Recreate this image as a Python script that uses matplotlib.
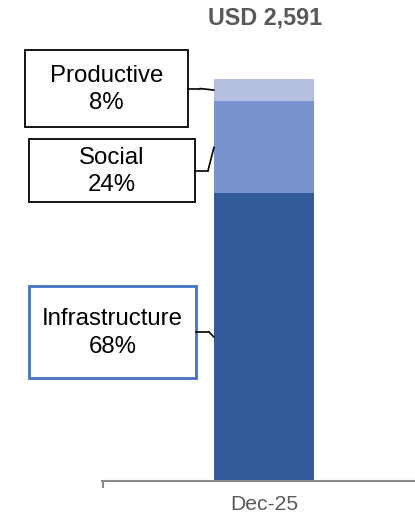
import matplotlib.pyplot as plt
from matplotlib.patches import Rectangle, ConnectionPatch

plt.rcParams['font.family'] = ['Liberation Sans', 'DejaVu Sans']

# data (USD)
period = 'Dec-25'
segments = ['Infrastructure', 'Social', 'Productive']
values = [1855, 593, 143]
shares = ['68%', '24%', '8%']
colors = ['#335A99', '#7A92CE', '#B4BFE0']
total = 2591

W, H = 415, 518
fig = plt.figure(figsize=(W / 100, H / 100), dpi=100)

# main axes
ax = fig.add_axes([102 / W, 37 / H, 313 / W, 441 / H])
bar_w = 0.6
bottom = 0
mids = []
for v, c in zip(values, colors):
    ax.bar(0, v, bar_w, bottom=bottom, color=c, linewidth=0)
    mids.append(bottom + v / 2)
    bottom += v
ax.set_xlim(-0.972, 0.906)
ax.set_ylim(0, total * 441 / 402)
ax.set_xticks([0])
ax.set_xticklabels([period], fontsize=15.2, color='#595959')
ax.tick_params(axis='x', length=0, pad=10)
ax.set_yticks([])
for s in ['top', 'right', 'left']:
    ax.spines[s].set_visible(False)
ax.spines['bottom'].set_color('#898989')
ax.spines['bottom'].set_linewidth(1.5)

ax.annotate(f'USD {total:,}', xy=(0, bottom), xytext=(1, 44),
            textcoords='offset points', ha='center', va='center',
            fontsize=16.8, fontweight='bold', color='#595959')

# overlay in pixel coords for the label boxes
ov = fig.add_axes([0, 0, 1, 1], zorder=5)
ov.set_xlim(0, W)
ov.set_ylim(H, 0)
ov.axis('off')
ov.patch.set_alpha(0)

# small tick at left end of the axis line
ov.plot([102.5, 102.5], [481, 487], color='#898989', lw=1.5)

# box x0, y0, x1, y1, edge colour, edge width, elbow
boxes = {
    'Productive': (25, 50, 188, 127, 'black', 1.3, 200),
    'Social': (29, 139, 195, 202, 'black', 1.3, 208),
    'Infrastructure': (29, 286, 196, 378, '#4472C4', 2.0, 209),
}
for name, pct, mid in zip(segments, shares, mids):
    x0, y0, x1, y1, ec, lw, elbow = boxes[name]
    ov.add_patch(Rectangle((x0, y0), x1 - x0, y1 - y0, facecolor='white',
                           edgecolor=ec, linewidth=lw))
    cy = (y0 + y1) / 2
    ov.text((x0 + x1) / 2, cy + 1, f'{name}\n{pct}', ha='center', va='center',
            fontsize=17.3, color='black', linespacing=1.35)
    ov.plot([x1, elbow], [cy, cy], color='black', lw=1.2)
    fig.add_artist(ConnectionPatch(xyA=(elbow, cy), coordsA=ov.transData,
                                   xyB=(-bar_w / 2, mid), coordsB=ax.transData,
                                   color='black', lw=1.2))

fig.savefig('out.png', dpi=100)
